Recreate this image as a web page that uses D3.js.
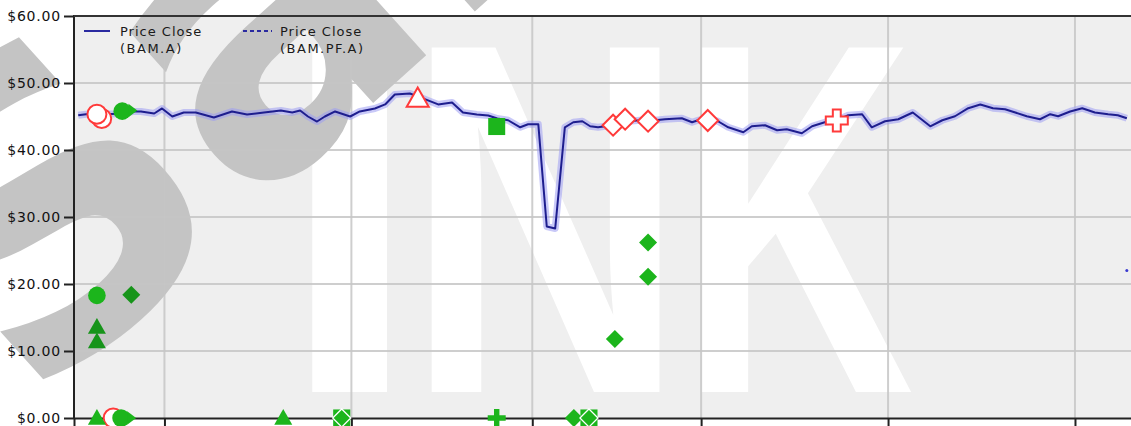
<!DOCTYPE html>
<html><head><meta charset="utf-8">
<script src="https://cdn.jsdelivr.net/npm/d3@7"></script>
<style>body{margin:0;background:#fff;overflow:hidden}svg{display:block}</style>
</head><body>
<svg id="chart" width="1131" height="426"></svg>
<script>
// ---------- data ----------
const priceDays = [0.7,2.0,3.8,5.6,7.6,9.8,11.1,13.3,14.6,16.3,18.2,20.2,23.2,26.2,28.7,31.5,34.3,36.2,37.5,38.8,40.3,41.6,43.3,45.8,47.4,49.9,51.6,53.2,55.7,57.0,58.7,60.4,62.7,64.5,66.8,68.7,70.2,72.0,74.0,75.3,77.0,78.4,79.8,81.4,82.8,84.3,85.6,86.9,88.1,89.4,91.9,93.9,96.4,98.0,100.8,102.5,103.5,105.1,106.8,108.5,111.0,112.4,114.6,116.6,118.2,120.7,122.4,124.5,126.5,128.4,130.7,132.3,134.5,136.7,139.1,142.0,144.0,146.1,148.3,150.3,152.4,154.4,156.1,158.0,160.2,161.9,163.2,165.2,167.2,169.3,171.5,173.1,174.6];
const priceCloseBAMA = [45.19,45.34,45.34,45.34,45.45,45.75,45.75,45.45,46.20,45.01,45.60,45.60,44.85,45.75,45.30,45.60,45.90,45.60,45.90,45.00,44.25,45.00,45.75,45.00,45.75,46.20,46.80,48.29,48.44,48.00,47.40,46.80,47.10,45.60,45.30,45.15,44.70,44.44,43.39,43.84,43.84,28.58,28.28,43.39,44.14,44.29,43.54,43.39,43.54,43.99,44.29,44.44,44.44,44.59,44.74,44.14,44.44,44.59,44.29,43.39,42.65,43.54,43.69,42.95,43.09,42.50,43.54,44.14,44.44,45.19,45.34,43.39,44.29,44.59,45.60,43.54,44.44,45.04,46.24,46.80,46.24,46.09,45.60,45.04,44.59,45.34,45.04,45.75,46.24,45.60,45.34,45.19,44.74];
const pfDays = [174.6];
const priceClosePF = [22.0];

const redDays   = [4.6, 3.8, 6.5, 57.0, 89.4, 91.4, 95.2, 105.1, 126.5];
const redValues = [44.7, 45.34, 0, 47.7, 43.7, 44.6, 44.3, 44.4, 44.4];
const redShapes = ["circle","circle","circle","triangle","diamond","diamond","diamond","diamond","cross"];

const greenDays   = [8.0, 9.8, 70.1, 3.8, 9.5, 3.8, 3.8, 89.7, 95.2, 95.2, 3.8, 7.8, 9.6, 34.7, 44.4, 70.1, 82.9, 85.4];
const greenValues = [45.8, 45.9, 43.5, 18.3, 18.4, 13.6, 11.4, 11.8, 21.1, 26.2, 0, 0, 0, 0, 0, 0, 0, 0];
const greenShapes = ["circle","triRight","square","circle","diamond","triangle","triangle","diamond","diamond","diamond","triangle","circle","triRight","triangle","xdiamond","plus","diamond","xdiamond"];
const greenTones  = ["b","b","b","b","d","d","d","b","b","b","b","b","b","b","b","b","b","b"];

const yTickValues = [0,10,20,30,40,50,60];
const xTickDays = [15,46,76,104,135,166];
const legendTitles = ["Price Close","Price Close"];
const legendSymbols = ["(BAM.A)","(BAM.PF.A)"];

// ---------- layout ----------
const W = 1131, H = 426;
const pLeft = 74, pTop = 16, pBottom = 418, pRight = 1160;
const svg = d3.select("#chart");
const x = d3.scaleLinear().domain([0,180]).range([pLeft, pLeft + 180*6.03]);
const y = d3.scaleLinear().domain([0,60]).range([pBottom, pTop]);

// background
svg.append("rect").attr("x",0).attr("y",0).attr("width",W).attr("height",H).attr("fill","#fff");
svg.append("rect").attr("x",pLeft).attr("y",pTop).attr("width",pRight-pLeft).attr("height",pBottom-pTop).attr("fill","#efefef");

// white watermark letters, each fitted to its box using canvas ink metrics
const ctx = document.createElement("canvas").getContext("2d");
const wmFont = "'Liberation Sans', Arial, sans-serif";
function fitLetter(g, t, x0, x1, y0, y1, weight){
  const F = 400;
  ctx.font = `${weight} ${F}px ${wmFont}`;
  const m = ctx.measureText(t);
  const l = -m.actualBoundingBoxLeft, r = m.actualBoundingBoxRight;
  const tp = -m.actualBoundingBoxAscent, bt = m.actualBoundingBoxDescent;
  const sx = (x1-x0)/(r-l), sy = (y1-y0)/(bt-tp);
  g.append("text").attr("transform",`translate(${x0 - l*sx},${y0 - tp*sy}) scale(${sx},${sy})`)
    .style("font-family",wmFont).style("font-weight",weight).style("font-size",F+"px").text(t);
}
const wm = svg.append("g").attr("fill","#fff");
fitLetter(wm,"I",310,391,40,392,"bold");
fitLetter(wm,"N",430,660,40,392,"bold");
fitLetter(wm,"K",700,913,40,392,"bold");

// gray watermark
svg.append("text").attr("transform","translate(30,412) rotate(-42)")
  .attr("fill","#c4c4c4").style("font-family","'DejaVu Sans', Verdana, sans-serif").style("font-weight","bold").style("font-size","405px")
  .text("Sample");

// grid
const grid = svg.append("g").attr("stroke","#c6c6c6").attr("stroke-width",2).attr("stroke-opacity",0.85);
grid.selectAll("line.h").data(yTickValues.filter(v=>v>0&&v<60)).join("line")
  .attr("x1",pLeft).attr("x2",pRight).attr("y1",d=>y(d)).attr("y2",d=>y(d));
grid.selectAll("line.v").data(xTickDays).join("line")
  .attr("x1",d=>x(d)).attr("x2",d=>x(d)).attr("y1",pTop).attr("y2",pBottom);

// y axis
const yAxis = svg.append("g").attr("transform",`translate(${pLeft},0)`)
  .call(d3.axisLeft(y).tickValues(yTickValues).tickSize(10).tickPadding(3).tickFormat(d3.format("$.2f")));
yAxis.select(".domain").remove();
yAxis.selectAll(".tick line").attr("stroke","#222").attr("stroke-width",2);
yAxis.selectAll(".tick text").attr("fill","#111").style("font-family","'DejaVu Sans', sans-serif").style("font-size","14px").style("letter-spacing","0.8px");

// axes lines
svg.append("line").attr("x1",pLeft).attr("x2",pLeft).attr("y1",pTop-1).attr("y2",pBottom+1).attr("stroke","#222").attr("stroke-width",2);
svg.append("line").attr("x1",pLeft).attr("x2",W).attr("y1",pTop).attr("y2",pTop).attr("stroke","#333").attr("stroke-width",2);
const xAxis = svg.append("g").attr("transform",`translate(0,${pBottom})`)
  .call(d3.axisBottom(x).tickValues(xTickDays).tickSize(9).tickFormat(""));
xAxis.select(".domain").attr("stroke","#222").attr("stroke-width",2);
xAxis.selectAll(".tick line").attr("stroke","#222").attr("stroke-width",2);

// legend
const lg = svg.append("g").style("font-family","'DejaVu Sans', sans-serif").style("font-size","13px").attr("fill","#1a1a1a");
lg.append("line").attr("x1",84).attr("x2",110).attr("y1",31).attr("y2",31).attr("stroke","#2a2aa0").attr("stroke-width",2);
lg.append("line").attr("x1",243).attr("x2",272).attr("y1",31).attr("y2",31).attr("stroke","#2a2aa0").attr("stroke-width",2).attr("stroke-dasharray","4,3");
[[120,0],[280,1]].forEach(([lx,i])=>{
  lg.append("text").attr("x",lx).attr("y",36).style("letter-spacing","1px").text(legendTitles[i]);
  lg.append("text").attr("x",lx).attr("y",53).style("letter-spacing","1.5px").text(legendSymbols[i]);
});

// price line
const pts = priceDays.map((d,i)=>[d, priceCloseBAMA[i]]);
const line = d3.line().x(d=>x(d[0])).y(d=>y(d[1]));
svg.append("path").attr("d",line(pts)).attr("fill","none").attr("stroke","#9c9cf2").attr("stroke-width",7).attr("stroke-opacity",0.55).attr("stroke-linejoin","round");
svg.append("path").attr("d",line(pts)).attr("fill","none").attr("stroke","#1e1e8e").attr("stroke-width",2).attr("stroke-linejoin","round");
svg.selectAll("circle.pf").data(pfDays).join("circle").attr("cx",d=>x(d)).attr("cy",(d,i)=>y(priceClosePF[i])).attr("r",1.5).attr("fill","#3a3ad0");

// markers
function shapePath(t, s){
  switch(t){
    case "diamond": return `M0,${-s}L${s},0L0,${s}L${-s},0Z`;
    case "triangle": return `M0,${-s}L${s},${s*0.75}L${-s},${s*0.75}Z`;
    case "triRight": return `M${-s*0.55},${-s*0.8}L${s*0.5},0L${-s*0.55},${s*0.8}Z`;
    case "square": return `M${-s},${-s}H${s}V${s}H${-s}Z`;
    case "cross": { const a=s, b=s*0.36; return `M${-b},${-a}H${b}V${-b}H${a}V${b}H${b}V${a}H${-b}V${b}H${-a}V${-b}H${-b}Z`; }
    case "plus": { const a=s, b=s*0.3; return `M${-b},${-a}H${b}V${-b}H${a}V${b}H${b}V${a}H${-b}V${b}H${-a}V${-b}H${-b}Z`; }
  }
}
function drawMarker(g, t, s, fill, stroke, sw){
  if(t==="circle"){ g.append("circle").attr("r",s).attr("fill",fill).attr("stroke",stroke).attr("stroke-width",sw); }
  else if(t==="xdiamond"){
    g.append("path").attr("d",shapePath("square",s*0.9)).attr("fill",fill);
    g.append("path").attr("d",shapePath("diamond",s*0.95)).attr("fill",fill).attr("stroke","#fff").attr("stroke-width",1.3);
  }
  else { g.append("path").attr("d",shapePath(t,s)).attr("fill",fill).attr("stroke",stroke).attr("stroke-width",sw); }
}
const redSize = {circle:9.5, triangle:11, diamond:10.5, cross:11};
redDays.forEach((d,i)=>{
  const g = svg.append("g").attr("transform",`translate(${x(d)},${y(redValues[i])})`);
  drawMarker(g, redShapes[i], redSize[redShapes[i]], "#fff", "#ff3a3a", 2);
});
const greenSize = {circle:8.8, triangle:9, triRight:8.5, square:8.5, diamond:9, xdiamond:9.5, plus:9};
greenDays.forEach((d,i)=>{
  const g = svg.append("g").attr("transform",`translate(${x(d)},${y(greenValues[i])})`);
  const col = greenTones[i]==="d" ? "#17941a" : "#1cb51c";
  drawMarker(g, greenShapes[i], greenSize[greenShapes[i]], col, "none", 0);
});
</script>
</body></html>
